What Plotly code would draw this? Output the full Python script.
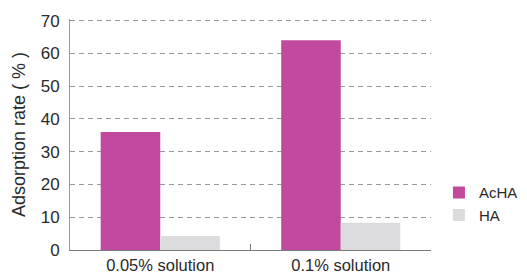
import plotly.graph_objects as go

categories = ["0.05% solution", "0.1% solution"]
acha = [36, 64]
ha = [4.3, 8.3]

fig = go.Figure()
fig.add_trace(go.Bar(name="AcHA", x=categories, y=acha, marker=dict(color="#C24A9E", line=dict(width=0))))
fig.add_trace(go.Bar(name="HA", x=categories, y=ha, marker=dict(color="#DCDCDE", line=dict(width=0))))

fig.update_layout(
    width=519, height=269,
    margin=dict(l=62, r=96, t=11, b=27, autoexpand=False),
    paper_bgcolor="white", plot_bgcolor="white",
    barmode="group", bargap=0.34, bargroupgap=0,
    font=dict(family="Liberation Sans, Arial, sans-serif", color="#2a2a2a", size=15),
    legend=dict(x=1.022, y=0.2, xanchor="left", yanchor="middle", font=dict(size=15),
                itemwidth=30, tracegroupgap=2, bgcolor="rgba(0,0,0,0)"),
    showlegend=True,
)
fig.update_xaxes(showline=True, linecolor="#777", linewidth=1, ticks="inside", ticklen=6,
                 tickcolor="#777", tickson="boundaries", showgrid=False,
                 tickfont=dict(size=16.5), automargin=False)
fig.update_yaxes(range=[0, 70.5], tickvals=[0, 10, 20, 30, 40, 50, 60, 70], showline=True,
                 linecolor="#999", linewidth=1,
                 showgrid=True, gridcolor="#999", griddash="5px,4px", gridwidth=1,
                 zeroline=False, ticks="", ticklabelstandoff=6, automargin=False,
                 title=dict(text="Adsorption rate ( % )", font=dict(size=18), standoff=10),
                 tickfont=dict(size=17))
fig.write_html("out.html")
